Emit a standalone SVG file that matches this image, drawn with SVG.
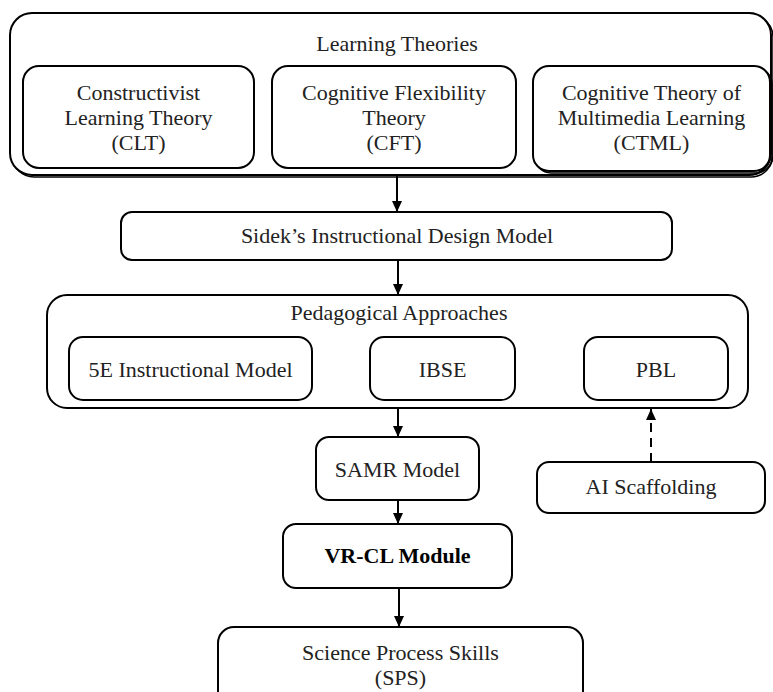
<svg xmlns="http://www.w3.org/2000/svg" width="773" height="692" viewBox="0 0 773 692">
<defs>
<style>
.box{fill:#fff;stroke:#000;stroke-width:2}
.shadow{fill:none;stroke:#000;stroke-width:1.5}
.t{font-family:"Liberation Serif","Times New Roman",serif;font-size:22px;fill:#222;text-anchor:middle}
.b{font-weight:bold;fill:#000}
.conn{stroke:#000;stroke-width:2;fill:none}
.dash{stroke-dasharray:9,6}
</style>
<marker id="ah" markerUnits="userSpaceOnUse" markerWidth="12" markerHeight="12" refX="11" refY="6" orient="auto">
<path d="M0,1 L11,6 L0,11 Z" fill="#000"/>
</marker>
</defs>
<rect width="773" height="692" fill="#fff"/>

<g id="learning-theories">
<rect class="shadow" x="12" y="15" width="761" height="162" rx="22"/>
<rect class="box" x="10" y="13" width="761" height="162" rx="22"/>
<text class="t" x="397" y="51">Learning Theories</text>
</g>
<g id="clt">
<rect class="box" x="23" y="66" width="231" height="102" rx="16"/>
<text class="t" x="138.5" y="100">Constructivist</text>
<text class="t" x="138.5" y="125">Learning Theory</text>
<text class="t" x="138.5" y="150">(CLT)</text>
</g>
<g id="cft">
<rect class="box" x="272" y="66" width="244" height="102" rx="16"/>
<text class="t" x="394" y="100">Cognitive Flexibility</text>
<text class="t" x="394" y="125">Theory</text>
<text class="t" x="394" y="150">(CFT)</text>
</g>
<g id="ctml">
<rect class="shadow" x="535" y="68" width="237" height="105" rx="16"/>
<rect class="box" x="533" y="66" width="237" height="105" rx="16"/>
<text class="t" x="651.5" y="100">Cognitive Theory of</text>
<text class="t" x="651.5" y="125">Multimedia Learning</text>
<text class="t" x="651.5" y="150">(CTML)</text>
</g>

<g id="sidek">
<rect class="box" x="121" y="212" width="551" height="48" rx="11"/>
<text class="t" x="397" y="243">Sidek’s Instructional  Design Model</text>
</g>

<g id="pedagogical">
<rect class="box" x="47" y="295" width="701" height="113" rx="20"/>
<text class="t" x="399" y="320">Pedagogical Approaches</text>
</g>
<g id="5e">
<rect class="box" x="69" y="337" width="243" height="63" rx="14"/>
<text class="t" x="190.5" y="377">5E Instructional  Model</text>
</g>
<g id="ibse">
<rect class="box" x="370" y="337" width="145" height="63" rx="14"/>
<text class="t" x="442.5" y="377">IBSE</text>
</g>
<g id="pbl">
<rect class="box" x="584" y="337" width="144" height="63" rx="14"/>
<text class="t" x="656" y="377">PBL</text>
</g>

<g id="samr">
<rect class="box" x="316" y="437" width="163" height="63" rx="13"/>
<text class="t" x="397.5" y="477">SAMR Model</text>
</g>
<g id="ai-scaffolding">
<rect class="box" x="537" y="462" width="228" height="51" rx="12"/>
<text class="t" x="651" y="494">AI Scaffolding</text>
</g>
<g id="vrcl">
<rect class="box" x="283" y="524" width="229" height="64" rx="13"/>
<text class="t b" x="397.5" y="563">VR-CL Module</text>
</g>
<g id="sps">
<rect class="box" x="218" y="627" width="365" height="80" rx="16"/>
<text class="t" x="400.5" y="660">Science Process  Skills</text>
<text class="t" x="400.5" y="685">(SPS)</text>
</g>

<g id="connectors">
<line class="conn" x1="397" y1="175" x2="397" y2="212" marker-end="url(#ah)"/>
<line class="conn" x1="398" y1="260" x2="398" y2="295" marker-end="url(#ah)"/>
<line class="conn" x1="398" y1="408" x2="398" y2="437" marker-end="url(#ah)"/>
<line class="conn" x1="398" y1="500" x2="398" y2="524" marker-end="url(#ah)"/>
<line class="conn" x1="399" y1="588" x2="399" y2="627" marker-end="url(#ah)"/>
<line class="conn dash" x1="651" y1="462" x2="651" y2="409" marker-end="url(#ah)"/>
</g>
</svg>
